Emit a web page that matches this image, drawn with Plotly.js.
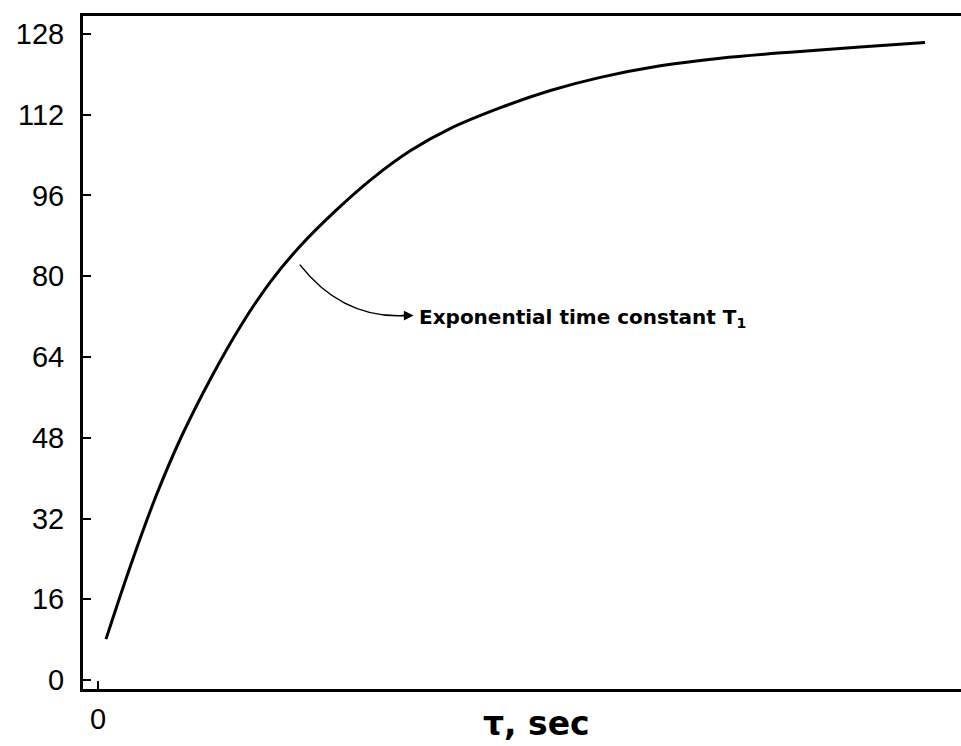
<!DOCTYPE html>
<html>
<head>
<meta charset="utf-8">
<script src="https://cdn.plot.ly/plotly-3.0.1.min.js"></script>
<style>html,body{margin:0;padding:0;background:#fff;}#chart{width:961px;height:746px;}</style>
</head>
<body>
<div id="chart"></div>
<script>
// Time (arbitrary units, seconds) and signal values
const timeSec = [0.08, 0.33, 0.58, 0.83, 1.13, 1.43, 1.73, 2.03, 2.38, 2.73, 3.13, 3.53, 4.03, 4.53, 5.03, 5.63, 6.23, 6.93, 7.63, 8.28];
const signal  = [8.1, 22.9, 36.4, 48.0, 59.8, 70.2, 79.0, 86.1, 93.0, 99.1, 104.9, 109.3, 113.4, 116.8, 119.4, 121.7, 123.2, 124.4, 125.4, 126.3];
const yTicks = [0, 16, 32, 48, 64, 80, 96, 112, 128];
const xTicks = [0];
const annotationText = "Exponential time constant T<sub>1</sub>";
const xTitle = "τ, sec";

const trace = {
  x: timeSec, y: signal, type: 'scatter', mode: 'lines',
  line: {color: '#000', width: 3, shape: 'spline', smoothing: 1},
  hoverinfo: 'skip'
};

const layout = {
  width: 961, height: 746,
  margin: {l: 83, r: 0, t: 16, b: 57},
  paper_bgcolor: '#fff', plot_bgcolor: '#fff',
  showlegend: false,
  font: {family: 'Liberation Sans, Arial, sans-serif', color: '#000', size: 30},
  xaxis: {
    range: [-0.15, 8.64], tickvals: xTicks, ticktext: ['0'],
    ticks: 'inside', ticklen: 8, tickwidth: 2, tickcolor: '#000',
    showline: true, linecolor: '#000', linewidth: 3, mirror: true,
    showgrid: false, zeroline: false,
    tickfont: {size: 29, color: '#000'},
    ticklabelstandoff: 2
  },
  yaxis: {
    range: [-1.78, 131.56], tickvals: yTicks,
    ticks: 'inside', ticklen: 8, tickwidth: 2, tickcolor: '#000',
    showline: true, linecolor: '#000', linewidth: 3,
    showgrid: false, zeroline: false,
    tickfont: {size: 29, color: '#000'},
    ticklabelstandoff: 10
  },
  shapes: [{
    type: 'path', xref: 'x', yref: 'y',
    path: 'M 2.02,82.3 Q 2.45,71.5 3.08,72.2',
    line: {color: '#000', width: 1.5}
  }],
  annotations: [
    {x: 3.16, y: 72.2, ax: 3.02, ay: 72.2, xref: 'x', yref: 'y', axref: 'x', ayref: 'y',
     text: '', showarrow: true, arrowhead: 2, arrowsize: 1.3, arrowwidth: 1.5, arrowcolor: '#000'},
    {x: 3.19, y: 71.8, xref: 'x', yref: 'y', xanchor: 'left', yanchor: 'middle',
     text: annotationText, showarrow: false,
     font: {size: 20, color: '#000', family: 'DejaVu Sans, sans-serif', weight: 'bold'}},
    {x: 0.517, y: -0.052, xref: 'paper', yref: 'paper', xanchor: 'center', yanchor: 'middle',
     text: xTitle, showarrow: false,
     font: {size: 33, color: '#000', family: 'DejaVu Sans, sans-serif', weight: 'bold'}}
  ]
};

Plotly.newPlot('chart', [trace], layout, {staticPlot: true, displayModeBar: false});
</script>
</body>
</html>
